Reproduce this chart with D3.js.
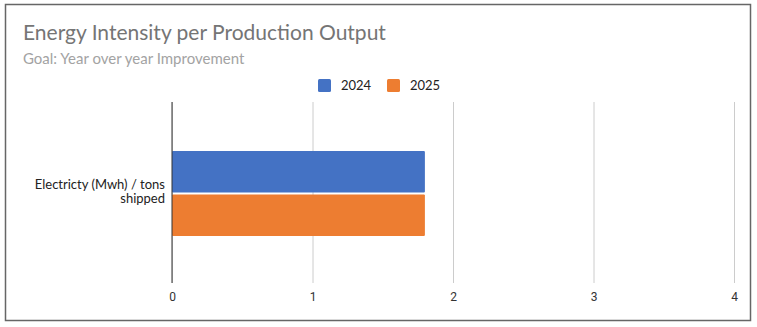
<!DOCTYPE html>
<html>
<head>
<meta charset="utf-8">
<script src="https://cdn.jsdelivr.net/npm/d3@7"></script>
<style>
  html, body { margin: 0; padding: 0; background: #fff; }
  svg { display: block; font-family: Lato, "Open Sans", sans-serif; }
</style>
</head>
<body>
<svg id="chart" width="757" height="327"></svg>
<script>
// Chart data
const categories = ["Electricty (Mwh) / tons shipped"];
const seriesNames = ["2024", "2025"];
const values2024 = [1.8];
const values2025 = [1.8];
const xTicks = [0, 1, 2, 3, 4];
const colors = ["#4472c4", "#ed7d31"];

const svg = d3.select("#chart");
const W = 757, H = 327;

// Outer frame
svg.append("rect")
  .attr("x", 5.5).attr("y", 4.5)
  .attr("width", 745).attr("height", 316)
  .attr("fill", "#fff").attr("stroke", "#666").attr("stroke-width", 1.5);

// Titles
svg.append("text")
  .attr("x", 23).attr("y", 40)
  .attr("font-size", 21).attr("fill", "#757575")
  .text("Energy Intensity per Production Output");
svg.append("text")
  .attr("x", 23).attr("y", 64)
  .attr("font-size", 15).attr("fill", "#a3a3a3")
  .text("Goal: Year over year Improvement");

// Plot area
const margin = { left: 172, right: 23, top: 102, bottom: 44 };
const x = d3.scaleLinear()
  .domain([d3.min(xTicks), d3.max(xTicks)])
  .range([margin.left, W - margin.right]);
const y = d3.scaleBand()
  .domain(categories)
  .range([margin.top, H - margin.bottom])
  .paddingInner(0).paddingOuter(0);
const yInner = d3.scaleBand()
  .domain(seriesNames)
  .range([0, y.bandwidth()])
  .paddingOuter(1.1).paddingInner(0.05);

// Gridlines via axis
const grid = svg.append("g")
  .attr("transform", `translate(0,${H - margin.bottom})`)
  .call(d3.axisBottom(x).tickValues(xTicks)
    .tickSize(-(H - margin.top - margin.bottom)).tickFormat(""));
grid.select(".domain").remove();
grid.selectAll(".tick line").attr("stroke", "#cccccc").attr("stroke-width", 1);

// Tick labels
const axis = svg.append("g")
  .attr("transform", `translate(0,${H - margin.bottom})`)
  .call(d3.axisBottom(x).tickValues(xTicks).tickSize(0).tickPadding(9).tickFormat(d3.format("d")));
axis.select(".domain").remove();
axis.selectAll("text")
  .attr("font-size", 12).attr("fill", "#333")
  .attr("font-family", "Roboto, Arial, sans-serif");

// Bars
const rows = categories.map((c, i) => ({
  category: c,
  values: [
    { series: seriesNames[0], value: values2024[i] },
    { series: seriesNames[1], value: values2025[i] }
  ]
}));
const groups = svg.append("g").selectAll("g")
  .data(rows).join("g")
  .attr("transform", d => `translate(0,${y(d.category)})`);
groups.selectAll("rect")
  .data(d => d.values).join("rect")
  .attr("x", x(0))
  .attr("y", d => yInner(d.series) + 1)
  .attr("width", d => x(d.value) - x(0))
  .attr("height", yInner.bandwidth())
  .attr("rx", 1)
  .attr("fill", (d, i) => colors[i]);

// Zero baseline
svg.append("line")
  .attr("x1", x(0)).attr("x2", x(0))
  .attr("y1", margin.top).attr("y2", H - margin.bottom)
  .attr("stroke", "#333").attr("stroke-width", 1);

// Category labels, wrapped over two lines
const catLines = [["Electricty (Mwh) / tons", "shipped"]];
categories.forEach((c, i) => {
  const cy = y(c) + y.bandwidth() / 2;
  catLines[i].forEach((ln, j) => {
    svg.append("text")
      .attr("text-anchor", "end")
      .attr("font-size", 13).attr("fill", "#222")
      .attr("x", 165).attr("y", cy - 4 + j * 14.5)
      .text(ln);
  });
});

// Legend
const legend = svg.append("g");
const legendX = [318, 387];
seriesNames.forEach((s, i) => {
  legend.append("rect")
    .attr("x", legendX[i]).attr("y", 79)
    .attr("width", 13).attr("height", 13).attr("rx", 1.5)
    .attr("fill", colors[i]);
  legend.append("text")
    .attr("x", legendX[i] + 23).attr("y", 90)
    .attr("font-size", 13).attr("fill", "#222")
    .text(s);
});
</script>
</body>
</html>
